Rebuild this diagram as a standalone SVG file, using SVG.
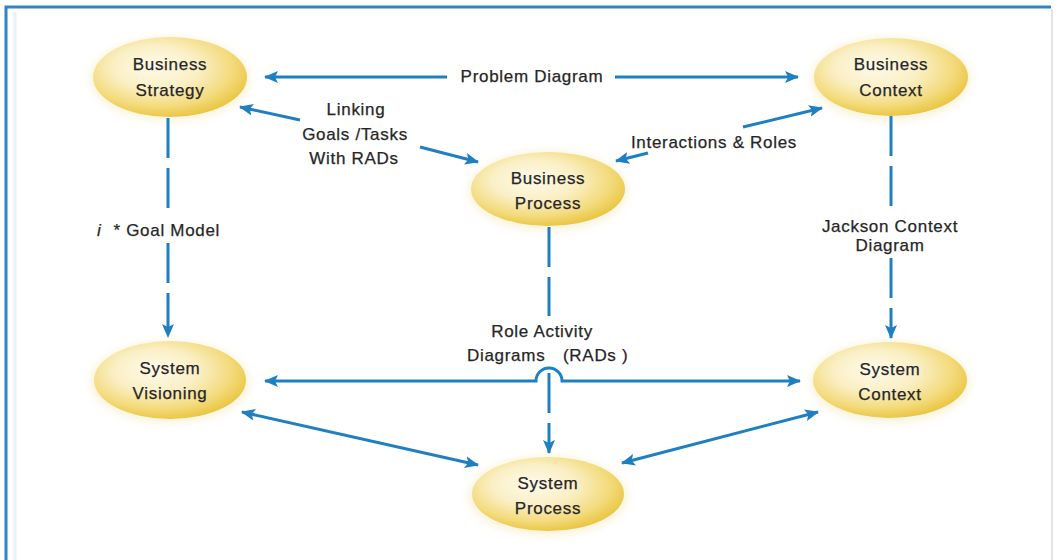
<svg xmlns="http://www.w3.org/2000/svg" width="1058" height="560" viewBox="0 0 1058 560">
  <defs>
    <radialGradient id="nodeFill" cx="44%" cy="40%" r="62%" fx="38%" fy="36%">
      <stop offset="0" stop-color="#fefaea"/>
      <stop offset="0.45" stop-color="#faefc4"/>
      <stop offset="0.78" stop-color="#f3da7a"/>
      <stop offset="1" stop-color="#e9c43e"/>
    </radialGradient>
    <filter id="halo" x="-20%" y="-30%" width="140%" height="160%">
      <feGaussianBlur stdDeviation="4"/>
    </filter>
    <marker id="head" viewBox="0 0 14 12" refX="13" refY="6" markerWidth="14" markerHeight="12" markerUnits="userSpaceOnUse" orient="auto-start-reverse">
      <path d="M0,0 L14,6 L0,12 L3,6 z" fill="#1e7fc2"/>
    </marker>
    <style>
      .node ellipse.body { fill: url(#nodeFill); }
      .node ellipse.glow { fill: #f3e7b8; opacity: 0.5; filter: url(#halo); }
      text { font-family: "Liberation Sans", Arial, sans-serif; font-size: 17px; letter-spacing: 0.7px; fill: #262626; stroke: #262626; stroke-width: 0.25; }
      .node text { text-anchor: middle; }
      .lbl { text-anchor: middle; }
      .link { fill: none; stroke: #1e7fc2; stroke-width: 3; }
      .dash { stroke-dasharray: 40 10; }
    </style>
  </defs>

  <rect x="0" y="0" width="1058" height="560" fill="#ffffff"/>

  <!-- frame -->
  <g id="frame">
    <path d="M6,560 V7 H1051" fill="none" stroke="#2a86c8" stroke-width="3"/>
    <line x1="15" y1="12" x2="15" y2="560" stroke="#e8f2fb" stroke-width="3"/>
    <line x1="1052" y1="9" x2="1052" y2="560" stroke="#e4e4e4" stroke-width="2"/>
  </g>

  <!-- nodes -->
  <g id="business-strategy" class="node">
    <ellipse class="glow" cx="170" cy="79" rx="80" ry="42"/>
    <ellipse class="body" cx="170" cy="77" rx="77" ry="40"/>
    <text x="170" y="70">Business</text>
    <text x="170" y="96">Strategy</text>
  </g>
  <g id="business-context" class="node">
    <ellipse class="glow" cx="891" cy="79" rx="80" ry="42"/>
    <ellipse class="body" cx="891" cy="77" rx="77" ry="39"/>
    <text x="891" y="70">Business</text>
    <text x="891" y="96">Context</text>
  </g>
  <g id="business-process" class="node">
    <ellipse class="glow" cx="548" cy="191" rx="80" ry="40"/>
    <ellipse class="body" cx="548" cy="189" rx="77" ry="37"/>
    <text x="548" y="184">Business</text>
    <text x="548" y="209">Process</text>
  </g>
  <g id="system-visioning" class="node">
    <ellipse class="glow" cx="170" cy="382" rx="80" ry="41"/>
    <ellipse class="body" cx="170" cy="380" rx="76" ry="39"/>
    <text x="170" y="374">System</text>
    <text x="170" y="399">Visioning</text>
  </g>
  <g id="system-context" class="node">
    <ellipse class="glow" cx="890" cy="382" rx="80" ry="41"/>
    <ellipse class="body" cx="890" cy="380" rx="77" ry="38"/>
    <text x="890" y="375">System</text>
    <text x="890" y="400">Context</text>
  </g>
  <g id="system-process" class="node">
    <ellipse class="glow" cx="548" cy="496" rx="80" ry="40"/>
    <ellipse class="body" cx="548" cy="494" rx="76" ry="37"/>
    <text x="548" y="489">System</text>
    <text x="548" y="514">Process</text>
  </g>

  <!-- connectors -->
  <g id="connectors">
    <!-- Problem Diagram -->
    <line class="link" x1="447" y1="77" x2="265" y2="77" marker-end="url(#head)"/>
    <line class="link" x1="615" y1="77" x2="798" y2="77" marker-end="url(#head)"/>
    <!-- Linking Goals / Tasks With RADs -->
    <line class="link" x1="300" y1="120" x2="240" y2="107" marker-end="url(#head)"/>
    <line class="link" x1="420" y1="147" x2="478" y2="162" marker-end="url(#head)"/>
    <!-- Interactions & Roles -->
    <line class="link" x1="743" y1="127" x2="822" y2="108" marker-end="url(#head)"/>
    <line class="link" x1="648" y1="153" x2="616" y2="161" marker-end="url(#head)"/>
    <!-- i* Goal Model -->
    <line class="link dash" x1="168" y1="118" x2="168" y2="218"/>
    <line class="link dash" x1="168" y1="243" x2="168" y2="337" marker-end="url(#head)"/>
    <!-- Jackson Context Diagram -->
    <line class="link dash" x1="891" y1="116" x2="891" y2="214"/>
    <line class="link dash" x1="891" y1="258" x2="891" y2="338" marker-end="url(#head)"/>
    <!-- Role Activity Diagrams -->
    <line class="link dash" x1="549" y1="227" x2="549" y2="316"/>
    <line class="link dash" x1="549" y1="373" x2="549" y2="453" stroke-dasharray="42 11" marker-end="url(#head)"/>
    <!-- System Visioning <-> System Context, hopping over the vertical -->
    <path class="link" d="M265,381 H536 A13,13 0 0 1 562,381 H800" marker-start="url(#head)" marker-end="url(#head)"/>
    <!-- diagonals to System Process -->
    <line class="link" x1="242" y1="412" x2="478" y2="465" marker-start="url(#head)" marker-end="url(#head)"/>
    <line class="link" x1="622" y1="463" x2="818" y2="412" marker-start="url(#head)" marker-end="url(#head)"/>
  </g>

  <!-- connector labels -->
  <g id="labels">
    <text class="lbl" x="532" y="82">Problem Diagram</text>
    <text class="lbl" x="356" y="115">Linking</text>
    <text class="lbl" x="355" y="140">Goals /Tasks</text>
    <text class="lbl" x="354" y="164">With RADs</text>
    <text class="lbl" x="714" y="148">Interactions &amp; Roles</text>
    <text y="236"><tspan x="97" font-style="italic">i</tspan><tspan x="108"> * Goal Model</tspan></text>
    <text class="lbl" x="890" y="232">Jackson Context</text>
    <text class="lbl" x="890" y="251">Diagram</text>
    <text class="lbl" x="542" y="337">Role Activity</text>
    <text y="361"><tspan x="467">Diagrams</tspan><tspan x="563">(RADs )</tspan></text>
  </g>
</svg>
